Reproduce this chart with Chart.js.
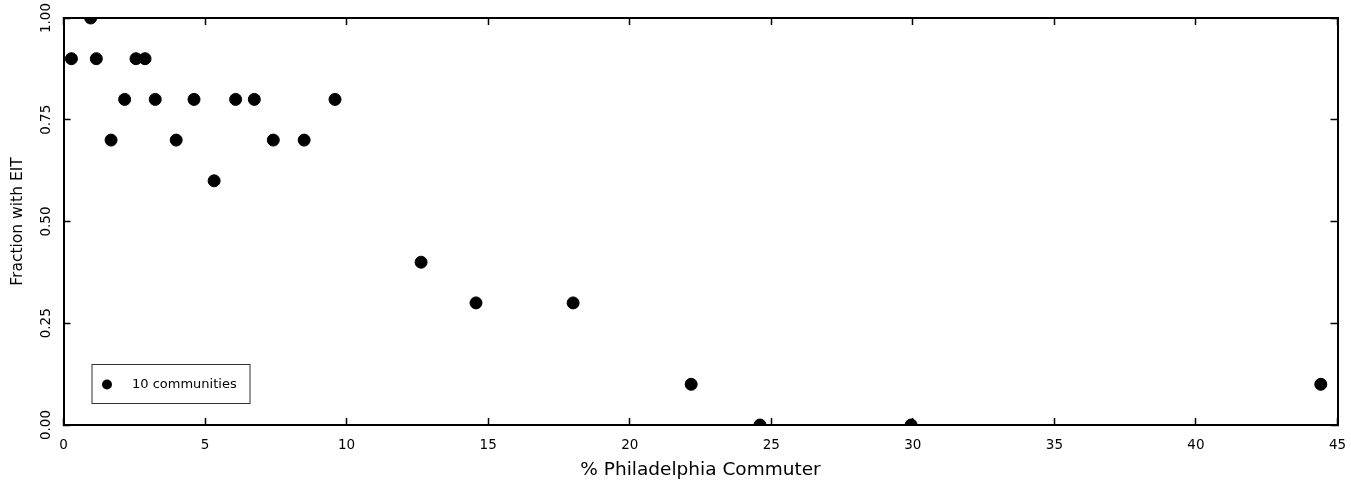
<!DOCTYPE html>
<html>
<head>
<meta charset="utf-8">
<script src="https://cdn.jsdelivr.net/npm/chart.js@4/dist/chart.umd.min.js"></script>
<style>
  body { margin: 0; background: #fff; }
  canvas { display: block; }
</style>
</head>
<body>
<canvas id="eit-chart" width="1351" height="486"></canvas>
<script>
// values
var commuterPct = [0.28, 0.96, 1.16, 1.68, 2.16, 2.56, 2.88, 3.24, 3.98, 4.61, 5.32, 6.08,
                   6.74, 7.41, 8.50, 9.59, 12.63, 14.57, 18.0, 22.17, 24.6, 29.94, 44.41];
var fractionEIT = [0.9, 1.0, 0.9, 0.7, 0.8, 0.9, 0.9, 0.8, 0.7, 0.8, 0.6, 0.8,
                   0.8, 0.7, 0.7, 0.8, 0.4, 0.3, 0.3, 0.1, 0.0, 0.0, 0.1];
var xTickValues = [0, 5, 10, 15, 20, 25, 30, 35, 40, 45];
var yTickLabels = ['0.00', '0.25', '0.50', '0.75', '1.00'];
var seriesLabel = '10 communities';
var xTitle = '% Philadelphia Commuter';
var yTitle = 'Fraction with EIT';

var FONT = '"DejaVu Sans", sans-serif';

var points = commuterPct.map(function(x, i) {
    return { x: x, y: fractionEIT[i] };
});

// little boxed legend in the lower left of the plot
var boxLegend = {
    id: 'boxLegend',
    afterDraw: function(chart) {
        var ctx = chart.ctx;
        var area = chart.chartArea;
        var bx = area.left + 28.5, by = area.bottom - 60.5;
        ctx.save();
        ctx.strokeStyle = '#333';
        ctx.lineWidth = 1;
        ctx.strokeRect(bx, by, 158, 39);
        ctx.fillStyle = '#000';
        ctx.beginPath();
        ctx.arc(bx + 15, by + 20, 5, 0, Math.PI * 2);
        ctx.fill();
        ctx.font = '13px ' + FONT;
        ctx.textBaseline = 'middle';
        ctx.fillText(chart.data.datasets[0].label, bx + 40, by + 20);
        ctx.restore();
    }
};

var inwardGrid = {
    drawOnChartArea: false,
    drawTicks: true,
    tickLength: -7,
    tickWidth: 1.5,
    tickColor: '#000'
};
var frame = { display: true, color: '#000', width: 2 };

function noEdgePadding(s) {
    s.paddingLeft = 0; s.paddingRight = 0; s.paddingTop = 0; s.paddingBottom = 0;
}

new Chart(document.getElementById('eit-chart'), {
    type: 'scatter',
    data: {
        datasets: [{
            label: seriesLabel,
            data: points,
            backgroundColor: '#000',
            borderColor: '#000',
            pointRadius: 6,
            pointHoverRadius: 6,
            clip: 0
        }]
    },
    options: {
        responsive: false,
        animation: false,
        layout: { padding: { top: 18, right: 13.5, left: 0, bottom: 0 } },
        plugins: { legend: { display: false }, tooltip: { enabled: false } },
        scales: {
            x: {
                type: 'linear', position: 'bottom', min: 0, max: 45,
                afterBuildTicks: function(s) { s.ticks = xTickValues.map(function(v) { return { value: v }; }); },
                afterFit: function(s) { s.height = 61; noEdgePadding(s); },
                grid: inwardGrid, border: frame,
                ticks: { color: '#000', padding: 19, maxRotation: 0, font: { family: FONT, size: 13.5 } },
                title: { display: true, text: xTitle, color: '#000', padding: { top: 0, bottom: 5 },
                         font: { family: FONT, size: 18.5 } }
            },
            x2: {
                type: 'linear', position: 'top', min: 0, max: 45,
                afterBuildTicks: function(s) { s.ticks = xTickValues.map(function(v) { return { value: v }; }); },
                afterFit: function(s) { s.height = 0; noEdgePadding(s); },
                grid: inwardGrid, border: frame,
                ticks: { display: false }
            },
            y: {
                type: 'linear', position: 'left', min: 0, max: 1,
                afterBuildTicks: function(s) { s.ticks = yTickLabels.map(function(t) { return { value: parseFloat(t) }; }); },
                afterFit: function(s) { s.width = 63.5; noEdgePadding(s); },
                grid: inwardGrid, border: frame,
                ticks: {
                    color: '#000', padding: 9, minRotation: 90, maxRotation: 90, crossAlign: 'center',
                    font: { family: FONT, size: 13.5 },
                    callback: function(v) { return yTickLabels[Math.round(v * 4)]; }
                },
                title: { display: true, text: yTitle, color: '#000', padding: { top: 9, bottom: 0 },
                         font: { family: FONT, size: 15.5 } }
            },
            y2: {
                type: 'linear', position: 'right', min: 0, max: 1,
                afterBuildTicks: function(s) { s.ticks = yTickLabels.map(function(t) { return { value: parseFloat(t) }; }); },
                afterFit: function(s) { s.width = 0; noEdgePadding(s); },
                grid: inwardGrid, border: frame,
                ticks: { display: false }
            }
        }
    },
    plugins: [boxLegend]
});
</script>
</body>
</html>
